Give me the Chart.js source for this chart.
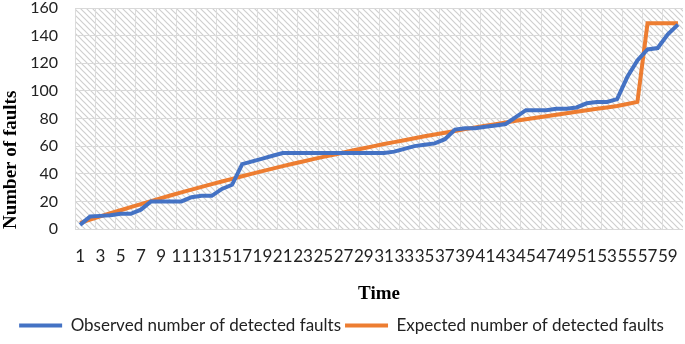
<!DOCTYPE html>
<html>
<head>
<meta charset="utf-8">
<script src="https://cdn.jsdelivr.net/npm/chart.js@4.4.0/dist/chart.umd.min.js"></script>
<style>
html,body{margin:0;padding:0;background:#fff;}
#wrap{width:685px;height:344px;position:relative;}
</style>
</head>
<body>
<div id="wrap"><canvas id="c" width="685" height="344"></canvas></div>
<script>
const categories = [];
for (let t = 1; t <= 60; t++) categories.push(String(t));

const observed = [3, 9, 9.5, 10, 11, 11, 14, 20, 20, 20,
  20, 23, 24, 24, 29, 32, 47, 49, 51, 53,
  55, 55, 55, 55, 55, 55, 55, 55, 55, 55,
  55, 56, 58, 60, 61, 62, 65, 72, 73, 73,
  74, 75, 76, 81, 86, 86, 86, 87, 87, 88,
  91, 92, 92, 94, 110, 122, 130, 131, 141, 148];

const expected = [4.5, 6.8, 9.1, 11.4, 13.6, 15.8, 18.0, 20.2, 22.3, 24.4,
  26.5, 28.5, 30.5, 32.5, 34.4, 36.3, 38.2, 40.1, 41.9, 43.7,
  45.5, 47.2, 48.9, 50.6, 52.2, 53.8, 55.4, 57.0, 58.5, 60.0,
  61.5, 62.9, 64.3, 65.7, 67.1, 68.4, 69.7, 71.0, 72.3, 73.5,
  74.7, 75.9, 77.1, 78.3, 79.4, 80.5, 81.6, 82.7, 83.8, 84.9,
  86.0, 87.0, 88.0, 89.1, 90.5, 92.0, 149, 149, 149, 149];

const seriesNames = ["Observed number of detected faults", "Expected number of detected faults"];
const yTicks = [0, 20, 40, 60, 80, 100, 120, 140, 160];

const FONT = "Lato, sans-serif";
const SERIF = "'Liberation Serif', 'Times New Roman', serif";

function makePattern(ctx) {
  const p = document.createElement('canvas');
  p.width = 6; p.height = 6;
  const g = p.getContext('2d');
  g.fillStyle = '#ffffff';
  g.fillRect(0, 0, 6, 6);
  g.strokeStyle = '#cfcfcf';
  g.lineWidth = 1.2;
  g.beginPath();
  g.moveTo(-1, -1); g.lineTo(7, 7);
  g.moveTo(-7, -1); g.lineTo(1, 7);
  g.moveTo(5, -1); g.lineTo(13, 7);
  g.stroke();
  return ctx.createPattern(p, 'repeat');
}

const bgPlugin = {
  id: 'hatchBg',
  beforeDraw(chart) {
    const {ctx, chartArea: a} = chart;
    ctx.save();
    ctx.fillStyle = makePattern(ctx);
    ctx.fillRect(a.left, a.top, a.right - a.left, a.bottom - a.top);
    ctx.restore();
  }
};

new Chart(document.getElementById('c'), {
  type: 'line',
  data: {
    labels: categories,
    datasets: [
      {label: seriesNames[0], data: observed, borderColor: '#4472C4', backgroundColor: '#4472C4',
       borderWidth: 4, pointRadius: 0, tension: 0, fill: false},
      {label: seriesNames[1], data: expected, borderColor: '#ED7D31', backgroundColor: '#ED7D31',
       borderWidth: 4, pointRadius: 0, tension: 0, fill: false}
    ]
  },
  options: {
    responsive: false,
    animation: false,
    layout: {autoPadding: false, padding: {left: 0, right: 2, top: 8, bottom: 0}},
    plugins: {
      legend: {
        position: 'bottom',
        labels: {
          font: {family: FONT, size: 17},
          color: '#222',
          boxWidth: 43, boxHeight: 4,
          padding: 4,
          generateLabels(chart) {
            const items = Chart.defaults.plugins.legend.labels.generateLabels(chart);
            items.forEach(i => { i.lineWidth = 0; });
            return items;
          }
        }
      },
      tooltip: {enabled: false}
    },
    scales: {
      x: {
        offset: true,
        grid: {
          offset: true,
          color: (c) => (c.index % 2 === 0 ? '#dcdcdc' : 'rgba(0,0,0,0)'),
          drawTicks: false
        },
        border: {display: false},
        ticks: {
          autoSkip: false, maxRotation: 0, minRotation: 0,
          font: {family: FONT, size: 17}, color: '#222', padding: 17,
          callback: (v, i) => (i % 2 === 0 ? categories[i] : '')
        },
        title: {display: true, text: 'Time', font: {family: SERIF, size: 19, weight: 'bold'},
                color: '#000', padding: {top: 0, bottom: 8}},
        afterFit: (s) => { s.height = 84; s.paddingLeft = 0; s.paddingRight = 0; s.paddingTop = 0; s.paddingBottom = 0; }
      },
      y: {
        min: 0, max: 160,
        afterBuildTicks: (s) => { s.ticks = yTicks.map(v => ({value: v})); },
        grid: {color: '#d9d9d9', drawTicks: false},
        border: {display: false},
        ticks: {autoSkip: false, font: {family: FONT, size: 16}, color: '#222', padding: 17},
        title: {display: true, text: 'Number of faults', align: 'start',
                font: {family: SERIF, size: 19, weight: 'bold'},
                color: '#000', padding: {top: 0, bottom: 0}},
        afterFit: (s) => { s.width = 75; s.paddingLeft = 0; s.paddingRight = 0; s.paddingTop = 0; s.paddingBottom = 0; }
      }
    }
  },
  plugins: [bgPlugin]
});
</script>
</body>
</html>
